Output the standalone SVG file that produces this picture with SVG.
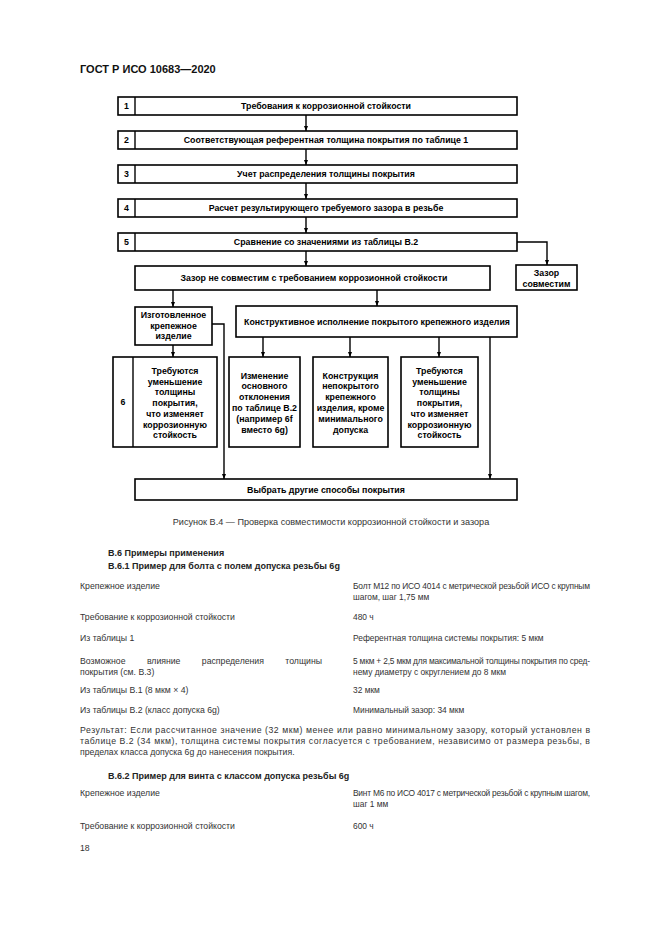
<svg xmlns="http://www.w3.org/2000/svg" width="661" height="935" viewBox="0 0 661 935">
<defs>
<style>
.bx{fill:#fff;stroke:#000;stroke-width:1.6}
.ln{fill:none;stroke:#000;stroke-width:1.4}
.ft{font-family:"Liberation Sans",Arial,sans-serif;font-size:8.8px;font-weight:bold;fill:#000;text-anchor:middle}
.bd{font-family:"Liberation Sans",Arial,sans-serif;font-size:8.7px;fill:#333}
.rc{font-size:8.4px}
.bh{font-family:"Liberation Sans",Arial,sans-serif;font-size:9px;font-weight:bold;fill:#222}
.hd{font-family:"Liberation Sans",Arial,sans-serif;font-size:11px;font-weight:bold;fill:#111}
</style>
<marker id="arr" viewBox="0 0 5 4" refX="5" refY="2" markerWidth="5" markerHeight="4" markerUnits="userSpaceOnUse" orient="auto">
<path d="M0,0 L5,2 L0,4 z" fill="#000"/>
</marker>
</defs>
<rect width="661" height="935" fill="#fff"/>
<text class="hd" x="80" y="73">ГОСТ Р ИСО 10683—2020</text>

<g id="connectors" class="ln">
<path d="M306,115 V131" marker-end="url(#arr)"/>
<path d="M306,149 V165" marker-end="url(#arr)"/>
<path d="M306,183 V199" marker-end="url(#arr)"/>
<path d="M306,217 V233" marker-end="url(#arr)"/>
<path d="M306,251 V266" marker-end="url(#arr)"/>
<path d="M517,242 H547 V265" marker-end="url(#arr)"/>
<path d="M173,290 V307" marker-end="url(#arr)"/>
<path d="M377,290 V306" marker-end="url(#arr)"/>
<path d="M212,324 H224 V479" marker-end="url(#arr)"/>
<path d="M173,345 V357" marker-end="url(#arr)"/>
<path d="M263,337 V357" marker-end="url(#arr)"/>
<path d="M350,337 V357" marker-end="url(#arr)"/>
<path d="M439,337 V357" marker-end="url(#arr)"/>
<path d="M490,337 V479" marker-end="url(#arr)"/>
</g>

<g id="n1"><rect class="bx" x="118" y="97" width="399" height="18"/><line class="ln" x1="135" y1="97" x2="135" y2="115"/><text class="ft" x="126.5" y="109">1</text><text class="ft" x="326" y="109">Требования к коррозионной стойкости</text></g>
<g id="n2"><rect class="bx" x="118" y="131" width="399" height="18"/><line class="ln" x1="135" y1="131" x2="135" y2="149"/><text class="ft" x="126.5" y="143">2</text><text class="ft" x="326" y="143">Соответствующая референтная толщина покрытия по таблице 1</text></g>
<g id="n3"><rect class="bx" x="118" y="165" width="399" height="18"/><line class="ln" x1="135" y1="165" x2="135" y2="183"/><text class="ft" x="126.5" y="177">3</text><text class="ft" x="326" y="177">Учет распределения толщины покрытия</text></g>
<g id="n4"><rect class="bx" x="118" y="199" width="399" height="18"/><line class="ln" x1="135" y1="199" x2="135" y2="217"/><text class="ft" x="126.5" y="211">4</text><text class="ft" x="326" y="211">Расчет результирующего требуемого зазора в резьбе</text></g>
<g id="n5"><rect class="bx" x="118" y="233" width="399" height="18"/><line class="ln" x1="135" y1="233" x2="135" y2="251"/><text class="ft" x="126.5" y="245">5</text><text class="ft" x="326" y="245">Сравнение со значениями из таблицы В.2</text></g>

<g id="n-ok"><rect class="bx" x="516" y="265" width="61" height="25"/><text class="ft" x="546.5" y="276">Зазор</text><text class="ft" x="546.5" y="287">совместим</text></g>
<g id="n-notok"><rect class="bx" x="135" y="266" width="355" height="24"/><text class="ft" x="314" y="281">Зазор не совместим с требованием коррозионной стойкости</text></g>

<g id="n-made"><rect class="bx" x="135" y="307" width="77" height="38"/><text class="ft" x="173.5" y="318">Изготовленное</text><text class="ft" x="173.5" y="328.5">крепежное</text><text class="ft" x="173.5" y="339">изделие</text></g>
<g id="n-design"><rect class="bx" x="236" y="306" width="281" height="31"/><text class="ft" x="377" y="324.5">Конструктивное исполнение покрытого крепежного изделия</text></g>

<g id="n6"><rect class="bx" x="113" y="357" width="104" height="90"/><line class="ln" x1="133" y1="357" x2="133" y2="447"/><text class="ft" x="123" y="405">6</text>
<text class="ft" x="175" y="374">Требуются</text><text class="ft" x="175" y="384.7">уменьшение</text><text class="ft" x="175" y="395.4">толщины</text><text class="ft" x="175" y="406.1">покрытия,</text><text class="ft" x="175" y="416.8">что изменяет</text><text class="ft" x="175" y="427.5">коррозионную</text><text class="ft" x="175" y="438.2">стойкость</text></g>

<g id="n-change"><rect class="bx" x="229" y="357" width="71" height="90"/>
<text class="ft" x="264.5" y="378.5">Изменение</text><text class="ft" x="264.5" y="389.3">основного</text><text class="ft" x="264.5" y="400.1">отклонения</text><text class="ft" x="264.5" y="410.9">по таблице В.2</text><text class="ft" x="264.5" y="421.7">(например 6f</text><text class="ft" x="264.5" y="432.5">вместо 6g)</text></g>

<g id="n-uncoated"><rect class="bx" x="313" y="357" width="75" height="90"/>
<text class="ft" x="350.5" y="378.5">Конструкция</text><text class="ft" x="350.5" y="389.3">непокрытого</text><text class="ft" x="350.5" y="400.1">крепежного</text><text class="ft" x="350.5" y="410.9">изделия, кроме</text><text class="ft" x="350.5" y="421.7">минимального</text><text class="ft" x="350.5" y="432.5">допуска</text></g>

<g id="n-reduce"><rect class="bx" x="401" y="357" width="77" height="90"/>
<text class="ft" x="439.5" y="374">Требуются</text><text class="ft" x="439.5" y="384.7">уменьшение</text><text class="ft" x="439.5" y="395.4">толщины</text><text class="ft" x="439.5" y="406.1">покрытия,</text><text class="ft" x="439.5" y="416.8">что изменяет</text><text class="ft" x="439.5" y="427.5">коррозионную</text><text class="ft" x="439.5" y="438.2">стойкость</text></g>

<g id="n-other"><rect class="bx" x="135" y="479" width="382" height="21"/><text class="ft" x="326" y="492.5">Выбрать другие способы покрытия</text></g>

<g id="body">
<text class="bd" x="331" y="525" text-anchor="middle" fill="#444" style="font-size:9.1px">Рисунок В.4 — Проверка совместимости коррозионной стойкости и зазора</text>
<text class="bh" x="108" y="556">В.6 Примеры применения</text>
<text class="bh" x="108" y="569">В.6.1 Пример для болта с полем допуска резьбы 6g</text>
<text class="bd" x="80" y="589">Крепежное изделие</text>
<text class="bd rc" x="353" y="589" textLength="237" lengthAdjust="spacing">Болт М12 по ИСО 4014 с метрической резьбой ИСО с крупным</text>
<text class="bd rc" x="353" y="600">шагом, шаг 1,75 мм</text>
<text class="bd" x="80" y="620">Требование к коррозионной стойкости</text>
<text class="bd rc" x="353" y="620">480 ч</text>
<text class="bd" x="80" y="641">Из таблицы 1</text>
<text class="bd rc" x="353" y="641">Референтная толщина системы покрытия: 5 мкм</text>
<text class="bd" x="80" y="664" word-spacing="19">Возможное влияние распределения толщины</text>
<text class="bd rc" x="353" y="664" textLength="237" lengthAdjust="spacing">5 мкм + 2,5 мкм для максимальной толщины покрытия по сред-</text>
<text class="bd" x="80" y="675">покрытия (см. В.3)</text>
<text class="bd rc" x="353" y="675">нему диаметру с округлением до 8 мкм</text>
<text class="bd" x="80" y="693">Из таблицы В.1 (8 мкм × 4)</text>
<text class="bd rc" x="353" y="693">32 мкм</text>
<text class="bd" x="80" y="713">Из таблицы В.2 (класс допуска 6g)</text>
<text class="bd rc" x="353" y="713">Минимальный зазор: 34 мкм</text>
<text class="bd" x="80" y="733" textLength="510" lengthAdjust="spacing">Результат: Если рассчитанное значение (32 мкм) менее или равно минимальному зазору, который установлен в</text>
<text class="bd" x="80" y="744" textLength="510" lengthAdjust="spacing">таблице В.2 (34 мкм), толщина системы покрытия согласуется с требованием, независимо от размера резьбы, в</text>
<text class="bd" x="80" y="755">пределах класса допуска 6g до нанесения покрытия.</text>
<text class="bh" x="108" y="779">В.6.2 Пример для винта с классом допуска резьбы 6g</text>
<text class="bd" x="80" y="796">Крепежное изделие</text>
<text class="bd rc" x="353" y="796" textLength="237" lengthAdjust="spacing">Винт М6 по ИСО 4017 с метрической резьбой с крупным шагом,</text>
<text class="bd rc" x="353" y="807">шаг 1 мм</text>
<text class="bd" x="80" y="829">Требование к коррозионной стойкости</text>
<text class="bd rc" x="353" y="829">600 ч</text>
<text class="bd" x="80" y="851">18</text>
</g>
</svg>
